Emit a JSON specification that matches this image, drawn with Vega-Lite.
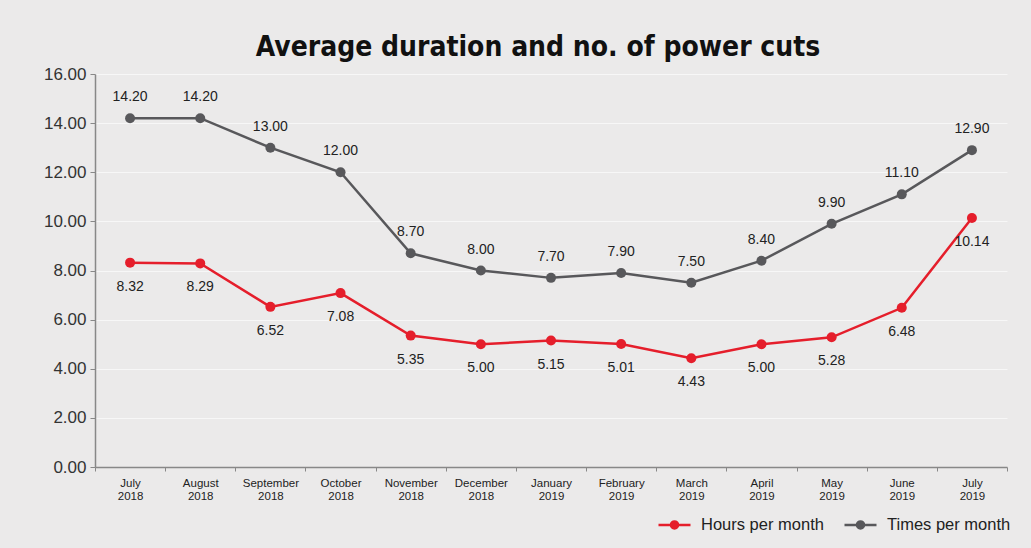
{
  "$schema": "https://vega.github.io/schema/vega-lite/v6.json",
  "autosize": {"type": "none"},
  "width": 912,
  "height": 393,
  "padding": {"left": 95, "top": 74, "right": 24, "bottom": 81},
  "background": "#ebeaea",
  "config": {
    "view": {"stroke": null},
    "font": "Liberation Sans"
  },
  "title": {
    "text": "Average duration and no. of power cuts",
    "font": "DejaVu Sans Condensed",
    "fontWeight": "bold",
    "fontSize": 28,
    "color": "#111111",
    "anchor": "middle",
    "dx": -13,
    "offset": 3
  },
  "data": {
    "values": [
      {"month": "July 2018", "i": 0, "series": "Times per month", "value": 14.20},
      {"month": "August 2018", "i": 1, "series": "Times per month", "value": 14.20},
      {"month": "September 2018", "i": 2, "series": "Times per month", "value": 13.00},
      {"month": "October 2018", "i": 3, "series": "Times per month", "value": 12.00},
      {"month": "November 2018", "i": 4, "series": "Times per month", "value": 8.70},
      {"month": "December 2018", "i": 5, "series": "Times per month", "value": 8.00},
      {"month": "January 2019", "i": 6, "series": "Times per month", "value": 7.70},
      {"month": "February 2019", "i": 7, "series": "Times per month", "value": 7.90},
      {"month": "March 2019", "i": 8, "series": "Times per month", "value": 7.50},
      {"month": "April 2019", "i": 9, "series": "Times per month", "value": 8.40},
      {"month": "May 2019", "i": 10, "series": "Times per month", "value": 9.90},
      {"month": "June 2019", "i": 11, "series": "Times per month", "value": 11.10},
      {"month": "July 2019", "i": 12, "series": "Times per month", "value": 12.90},
      {"month": "July 2018", "i": 0, "series": "Hours per month", "value": 8.32},
      {"month": "August 2018", "i": 1, "series": "Hours per month", "value": 8.29},
      {"month": "September 2018", "i": 2, "series": "Hours per month", "value": 6.52},
      {"month": "October 2018", "i": 3, "series": "Hours per month", "value": 7.08},
      {"month": "November 2018", "i": 4, "series": "Hours per month", "value": 5.35},
      {"month": "December 2018", "i": 5, "series": "Hours per month", "value": 5.00},
      {"month": "January 2019", "i": 6, "series": "Hours per month", "value": 5.15},
      {"month": "February 2019", "i": 7, "series": "Hours per month", "value": 5.01},
      {"month": "March 2019", "i": 8, "series": "Hours per month", "value": 4.43},
      {"month": "April 2019", "i": 9, "series": "Hours per month", "value": 5.00},
      {"month": "May 2019", "i": 10, "series": "Hours per month", "value": 5.28},
      {"month": "June 2019", "i": 11, "series": "Hours per month", "value": 6.48},
      {"month": "July 2019", "i": 12, "series": "Hours per month", "value": 10.14}
    ]
  },
  "encoding": {
    "x": {
      "field": "month",
      "type": "nominal",
      "sort": {"field": "i", "op": "min"},
      "scale": {"paddingInner": 0, "paddingOuter": 0},
      "axis": {
        "title": null,
        "labelAngle": 0,
        "labelExpr": "split(datum.label, ' ')",
        "labelFontSize": 11.5,
        "labelColor": "#222222",
        "labelPadding": 6,
        "labelLineHeight": 13,
        "tickBand": "extent",
        "tickSize": 4,
        "tickColor": "#888888",
        "domainColor": "#888888",
        "domainWidth": 1.5
      }
    },
    "y": {
      "field": "value",
      "type": "quantitative",
      "scale": {"domain": [0, 16]},
      "axis": {
        "title": null,
        "format": ".2f",
        "values": [0, 2, 4, 6, 8, 10, 12, 14, 16],
        "labelFontSize": 17,
        "labelColor": "#333333",
        "labelPadding": 4,
        "tickSize": 5,
        "tickColor": "#888888",
        "domainColor": "#888888",
        "domainWidth": 1.5,
        "gridColor": "#f7f7f7",
        "gridWidth": 1
      }
    },
    "color": {
      "field": "series",
      "type": "nominal",
      "scale": {"domain": ["Hours per month", "Times per month"], "range": ["#e51e2b", "#58585b"]},
      "legend": {
        "title": null,
        "orient": "none",
        "direction": "horizontal",
        "legendX": 562,
        "legendY": 433,
        "labelFontSize": 16.5,
        "labelColor": "#222222",
        "labelOffset": 9,
        "symbolType": "M-1,0H1M-0.22,0a0.22,0.22 0 1,0 0.44,0a0.22,0.22 0 1,0 -0.44,0",
        "symbolStrokeWidth": 2.5,
        "symbolSize": 1024,
        "columnPadding": 15,
        "encode": {
          "symbols": {
            "update": {
              "fill": {"scale": "color", "field": "value"},
              "fillOpacity": {"value": 1}
            }
          }
        }
      }
    }
  },
  "layer": [
    {
      "mark": {"type": "line", "strokeWidth": 2.5, "point": {"filled": true, "size": 100}}
    },
    {
      "transform": [{"filter": "datum.series == 'Times per month'"}],
      "mark": {"type": "text", "dy": -21, "fontSize": 14, "color": "#222222"},
      "encoding": {
        "text": {"field": "value", "type": "quantitative", "format": ".2f"},
        "color": {"value": "#222222"}
      }
    },
    {
      "transform": [{"filter": "datum.series == 'Hours per month'"}],
      "mark": {"type": "text", "dy": 24, "fontSize": 14, "color": "#222222"},
      "encoding": {
        "text": {"field": "value", "type": "quantitative", "format": ".2f"},
        "color": {"value": "#222222"}
      }
    }
  ]
}
